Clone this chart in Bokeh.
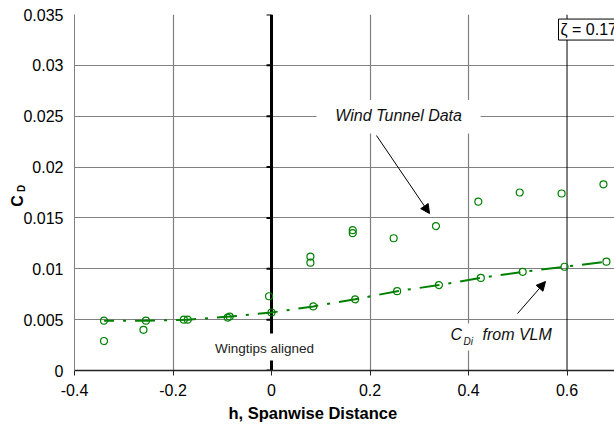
from bokeh.plotting import figure
from bokeh.models import (Range1d, FixedTicker, Span, Label, BoxAnnotation,
                          Arrow, NormalHead)
from bokeh.embed import file_html
from bokeh.resources import INLINE

# ---- data ----
x_ticks = [-0.4, -0.2, 0.0, 0.2, 0.4, 0.6]
x_tick_labels = ["-0.4", "-0.2", "0", "0.2", "0.4", "0.6"]
y_ticks = [0.0, 0.005, 0.01, 0.015, 0.02, 0.025, 0.03, 0.035]
y_tick_labels = ["0", "0.005", "0.01", "0.015", "0.02", "0.025", "0.03", "0.035"]
grey_vlines = [-0.2, 0.2, 0.4]

vlm_x = [-0.34, -0.255, -0.17, -0.085, 0.0, 0.085, 0.17, 0.255, 0.34, 0.425, 0.51, 0.595, 0.68]
vlm_cd = [0.0049, 0.0049, 0.0050, 0.0053, 0.0057, 0.0063, 0.0070, 0.0078, 0.0084, 0.0091, 0.0097, 0.0102, 0.0107]

wt_x = [-0.34, -0.26, -0.178, -0.089, -0.005, 0.079, 0.079, 0.165, 0.165, 0.248, 0.334, 0.42, 0.504, 0.589, 0.674]
wt_cd = [0.0029, 0.0040, 0.0050, 0.0052, 0.0073, 0.0112, 0.0106, 0.0138, 0.0135, 0.0130, 0.0142, 0.0166, 0.0175, 0.0174, 0.0183]

GREEN = "#008000"
FONT = "Liberation Sans"

p = figure(width=614, height=425, x_range=Range1d(-0.4, 0.6964), y_range=Range1d(0, 0.035),
           min_border_left=74, min_border_right=0, min_border_top=14, min_border_bottom=55,
           output_backend="svg", toolbar_location=None, tools="")
p.outline_line_color = None
p.background_fill_color = "white"

# x axis
xa = p.xaxis[0]
xa.ticker = FixedTicker(ticks=x_ticks)
xa.major_label_overrides = {t: l for t, l in zip(x_ticks, x_tick_labels)}
xa.axis_line_color = "#222222"
xa.axis_line_width = 1.5
xa.major_tick_in = 0
xa.major_tick_out = 5
xa.major_tick_line_color = "#222222"
xa.minor_tick_line_color = None
xa.major_label_standoff = 8
xa.major_label_text_font = FONT
xa.major_label_text_font_size = "16px"
xa.major_label_text_color = "black"

# y axis
ya = p.yaxis[0]
ya.ticker = FixedTicker(ticks=y_ticks)
ya.major_label_overrides = {t: l for t, l in zip(y_ticks, y_tick_labels)}
ya.axis_line_color = "#808080"
ya.axis_line_width = 1
ya.major_tick_in = 0
ya.major_tick_out = 0
ya.minor_tick_line_color = None
ya.major_label_standoff = 11
ya.major_label_text_font = FONT
ya.major_label_text_font_size = "16px"
ya.major_label_text_color = "black"

# grids
p.ygrid.ticker = FixedTicker(ticks=y_ticks[1:])
p.ygrid.grid_line_color = "#808080"
p.ygrid.grid_line_width = 1.2
p.xgrid.ticker = FixedTicker(ticks=grey_vlines)
p.xgrid.grid_line_color = "#808080"
p.xgrid.grid_line_width = 1.2

p.add_layout(Span(location=0.6, dimension="height", line_color="black", line_width=1, level="underlay"))
p.add_layout(Span(location=0.0, dimension="height", line_color="black", line_width=3, level="underlay"))

# tick marks on the centre (x=0) axis, pointing left
tick_len = 5 / 492.5
p.segment(x0=[0.0] * len(y_ticks), y0=y_ticks, x1=[-tick_len] * len(y_ticks), y1=y_ticks,
          line_color="black", line_width=2)

# white boxes behind texts
p.add_layout(BoxAnnotation(left=0.0914, right=0.4244, bottom=0.0233, top=0.0266,
                           fill_color="white", fill_alpha=1, line_alpha=0))
p.add_layout(BoxAnnotation(left=-0.1198, right=0.0914, bottom=0.00098, top=0.00364,
                           fill_color="white", fill_alpha=1, line_alpha=0))
p.add_layout(BoxAnnotation(left=0.3553, right=0.5787, bottom=0.00197, top=0.00462,
                           fill_color="white", fill_alpha=1, line_alpha=0))

# series
p.line(vlm_x, vlm_cd, line_color=GREEN, line_width=2, line_dash="20 9 3 9", line_dash_offset=10)
p.scatter(vlm_x, vlm_cd, marker="circle", size=7, fill_color=None, line_color=GREEN, line_width=1.2)
p.scatter(wt_x, wt_cd, marker="circle", size=7, fill_color=None, line_color=GREEN, line_width=1.2)

# texts
p.add_layout(Label(x=0.258, y=0.0251, text="Wind Tunnel Data", text_align="center",
                   text_baseline="middle", text_font=FONT, text_font_size="16px",
                   text_font_style="italic", text_color="#111111"))
p.add_layout(Arrow(end=NormalHead(size=9, fill_color="black", line_color="black"),
                   x_start=0.2132, y_start=0.0231, x_end=0.3208, y_end=0.01543,
                   line_color="black", line_width=1))

p.add_layout(Label(x=-0.0142, y=0.00216, text="Wingtips aligned", text_align="center",
                   text_baseline="middle", text_font=FONT, text_font_size="13.5px",
                   text_color="#222222"))

p.add_layout(Label(x=0.3635, y=0.00354, text="C", text_align="left", text_baseline="middle",
                   text_font=FONT, text_font_size="16px", text_font_style="italic", text_color="#111111"))
p.add_layout(Label(x=0.3898, y=0.00290, text="Di", text_align="left", text_baseline="middle",
                   text_font=FONT, text_font_size="10px", text_font_style="italic", text_color="#111111"))
p.add_layout(Label(x=0.4284, y=0.00354, text="from VLM", text_align="left", text_baseline="middle",
                   text_font=FONT, text_font_size="16px", text_font_style="italic", text_color="#111111"))
p.add_layout(Arrow(end=NormalHead(size=9, fill_color="black", line_color="black"),
                   x_start=0.4995, y_start=0.0056, x_end=0.5563, y_end=0.00875,
                   line_color="black", line_width=1))

p.add_layout(Label(x=0.5827, y=0.03352, text="\u03b6 = 0.17", text_align="left", text_baseline="middle",
                   text_font=FONT, text_font_size="16px", text_color="black",
                   background_fill_color="white", border_line_color="black", border_line_width=1,
                   padding=2))

# axis titles placed in side panels (one per side so the frame keeps its place)
p.add_layout(Label(x=14, y=169.5, x_units="screen", y_units="screen", text="C", angle=1.5708,
                   text_align="center", text_baseline="middle", text_font=FONT,
                   text_font_size="16px", text_font_style="bold", text_color="black"), "left")
p.add_layout(Label(x=-53, y=-174, x_units="screen", y_units="screen", text="D", angle=1.5708,
                   text_align="center", text_baseline="middle", text_font=FONT,
                   text_font_size="10px", text_font_style="bold", text_color="black"), "above")
p.add_layout(Label(x=154, y=3.5, x_units="screen", y_units="screen", text="h, Spanwise Distance",
                   text_align="left", text_baseline="middle", text_font=FONT,
                   text_font_size="16.5px", text_font_style="bold", text_color="black"), "below")

open("out.html", "w").write(file_html(p, INLINE))
